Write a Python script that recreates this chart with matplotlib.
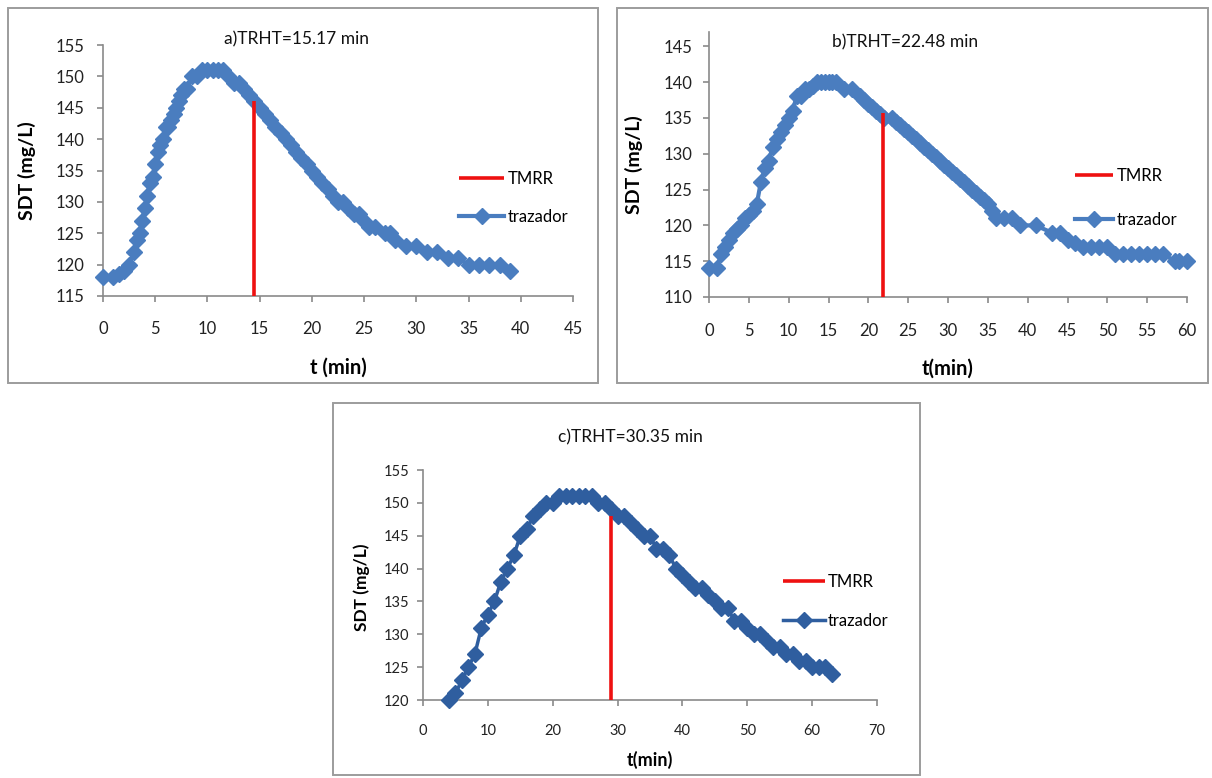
"""
tracer curves (SDT vs time) for the three tanks, with TMRR marker
"""

import matplotlib as mpl
mpl.use('Agg')
from matplotlib import pyplot as plt
from matplotlib.patches import Rectangle

# panel a) TRHT=15.17 min
t_a = [0, 1, 1.5, 2, 2.5, 3, 3.25, 3.5, 3.75, 4, 4.25, 4.5, 4.75, 5, 5.25, 5.5,
       5.75, 6, 6.25, 6.5, 6.75, 7, 7.25, 7.5, 7.75, 8, 8.5, 9, 9.5, 10, 10.5,
       11, 11.5, 12, 12.5, 13, 13.5, 14, 14.5, 15, 15.5, 16, 16.5, 17, 17.5, 18,
       18.5, 19, 19.5, 20, 20.5, 21, 21.5, 22, 22.5, 23, 23.5, 24, 24.5, 25,
       25.5, 26, 27, 27.5, 28, 29, 30, 31, 32, 33, 34, 35, 36, 37, 38, 39]
sdt_a = [118, 118, 118.5, 119, 120, 122, 124, 125, 127, 129, 131, 133, 134, 136,
         138, 139, 140, 142, 142, 143, 144, 145, 146, 147, 148, 148, 150, 150,
         151, 151, 151, 151, 151, 150, 149, 149, 148, 147, 146, 145, 144, 143,
         142, 141, 140, 139, 138, 137, 136, 135, 134, 133, 132, 131, 130, 130,
         129, 128, 128, 127, 126, 126, 125, 125, 124, 123, 123, 122, 122, 121,
         121, 120, 120, 120, 120, 119]
tmrr_a = 14.5
tmrr_top_a = 146

# panel b) TRHT=22.48 min
t_b = [0, 1, 1.5, 2, 2.5, 3, 3.5, 4, 4.5, 5, 5.5, 6, 6.5, 7, 7.5, 8, 8.5, 9,
       9.5, 10, 10.5, 11, 11.5, 12, 12.5, 13, 13.5, 14, 14.5, 15, 15.5, 16, 17,
       18, 19, 19.5, 20, 20.5, 21, 21.5, 22, 23, 23.5, 24, 24.5, 25, 25.5, 26,
       26.5, 27, 27.5, 28, 28.5, 29, 29.5, 30, 30.5, 31, 31.5, 32, 32.5, 33,
       33.5, 34, 34.5, 35, 35.5, 36, 37, 38, 39, 41, 43, 44, 45, 46, 47, 48, 49,
       50, 51, 52, 53, 54, 55, 56, 57, 58.5, 59, 60]
sdt_b = [114, 114, 116, 117, 118, 119, 119.5, 120, 121, 121.5, 122, 123, 126,
         128, 129, 131, 132, 133, 134, 135, 136, 138, 138, 139, 139, 139.5, 140,
         140, 140, 140, 140, 140, 139, 139, 138, 137.5, 137, 136.5, 136, 135.5,
         135, 135, 134.5, 134, 133.5, 133, 132.5, 132, 131.5, 131, 130.5, 130,
         129.5, 129, 128.5, 128, 127.5, 127, 126.5, 126, 125.5, 125, 124.5, 124,
         123.5, 123, 122, 121, 121, 121, 120, 120, 119, 119, 118, 117.5, 117,
         117, 117, 117, 116, 116, 116, 116, 116, 116, 116, 115, 115, 115]
tmrr_b = 21.8
tmrr_top_b = 135.7

# panel c) TRHT=30.35 min
t_c = list(range(4, 64))
sdt_c = [120, 121, 123, 125, 127, 131, 133, 135, 138, 140, 142, 145, 146, 148,
         149, 150, 150, 151, 151, 151, 151, 151, 151, 150, 150, 149, 148, 148,
         147, 146, 145, 145, 143, 143, 142, 140, 139, 138, 137, 137, 136, 135,
         134, 134, 132, 132, 131, 130, 130, 129, 128, 128, 127, 127, 126, 126,
         125, 125, 125, 124]
tmrr_c = 29
tmrr_top_c = 148

W, H = 1212, 778
GRAY = '#8a8a8a'
FONT = 'Lato'


def px_box(x0, y0, x1, y1):
    # pixel box (top-left origin) -> figure fraction [left, bottom, width, height]
    return [x0 / W, 1 - y1 / H, (x1 - x0) / W, (y1 - y0) / H]


def draw_panel(fig, axbox, frame, t, sdt, tmrr, tmrr_top, xlim, ylim, yticks,
               xstep, blue, title, title_xy, xlabel, ylab_xy, xlab_y, leg,
               tick_fs=12, ylab_fs=14, xlab_fs=14.5, lw=3.0, ms=8.5,
               xpad=14, ypad=9):
    fx = px_box(*frame)
    fig.patches.append(Rectangle((fx[0], fx[1]), fx[2], fx[3], transform=fig.transFigure,
                                 fill=False, edgecolor='#9c9c9c', lw=1.4))
    ax = fig.add_axes(px_box(*axbox))
    ax.plot([tmrr, tmrr], [ylim[0], tmrr_top], color='#ee1111', lw=2.6,
            label='TMRR', zorder=4, solid_capstyle='butt')
    ax.plot(t, sdt, color=blue, lw=lw, marker='D', ms=ms, mec=blue, mfc=blue,
            label='trazador', zorder=3, clip_on=False)
    ax.set_xlim(*xlim)
    ax.set_ylim(*ylim)
    ax.set_xticks(range(xlim[0], xlim[1] + 1, xstep))
    ax.set_yticks(yticks)
    for s in ['top', 'right']:
        ax.spines[s].set_visible(False)
    for s in ['left', 'bottom']:
        ax.spines[s].set_color(GRAY)
        ax.spines[s].set_linewidth(1.2)
    ax.tick_params(axis='both', direction='out', length=4, width=1.2, color=GRAY,
                   labelsize=tick_fs, labelcolor='#222222')
    ax.tick_params(axis='x', pad=xpad)
    ax.tick_params(axis='y', pad=ypad)
    for lab in ax.get_xticklabels() + ax.get_yticklabels():
        lab.set_family(FONT)
    ax.set_ylabel('SDT (mg/L)', fontsize=ylab_fs, fontweight='bold', family=FONT)
    ax.yaxis.set_label_coords(ylab_xy[0], ylab_xy[1])
    ax.set_xlabel(xlabel, fontsize=xlab_fs, fontweight='bold', family=FONT)
    ax.xaxis.set_label_coords(0.5, xlab_y)
    fig.text(title_xy[0] / W, 1 - title_xy[1] / H, title, ha='center', va='center',
             fontsize=12.5, family=FONT, color='#111111')
    ax.legend(loc='center left', bbox_to_anchor=(leg[0], leg[1]), frameon=False,
              borderpad=0, borderaxespad=0, handlelength=leg[3], handletextpad=0.2,
              labelspacing=leg[2], prop={'family': FONT, 'size': 12})
    return ax


def setup_figure():
    fig = plt.figure(figsize=(W / 100, H / 100), dpi=100)
    draw_panel(fig, (103, 45, 573, 296), (8, 8, 598, 383), t_a, sdt_a, tmrr_a,
               tmrr_top_a, (0, 45), (115, 155), range(115, 156, 5), 5, '#4a7dbf',
               'a)TRHT=15.17 min', (297, 39), 't (min)', (-0.143, 0.5), -0.245,
               (0.758, 0.39, 1.3, 2.7))
    draw_panel(fig, (709, 32, 1187, 297), (617, 8, 1208, 383), t_b, sdt_b, tmrr_b,
               tmrr_top_b, (0, 60), (110, 147), range(110, 146, 5), 5, '#4a7dbf',
               'b)TRHT=22.48 min', (905, 42), 't(min)', (-0.138, 0.5), -0.232,
               (0.766, 0.374, 1.65, 2.3), xpad=15, ypad=8)
    draw_panel(fig, (423, 470, 877, 700), (333, 403, 920, 775), t_c, sdt_c, tmrr_c,
               tmrr_top_c, (0, 70), (120, 155), range(120, 156, 5), 10, '#2f5e9f',
               'c)TRHT=30.35 min', (630, 437), 't(min)', (-0.117, 0.49), -0.222,
               (0.793, 0.428, 1.35, 2.5), tick_fs=10.5, ylab_fs=12.5, xlab_fs=13,
               lw=2.5, ms=8, xpad=13, ypad=6)
    fig.savefig('out.png', dpi=100)


if __name__ == "__main__":
    setup_figure()
